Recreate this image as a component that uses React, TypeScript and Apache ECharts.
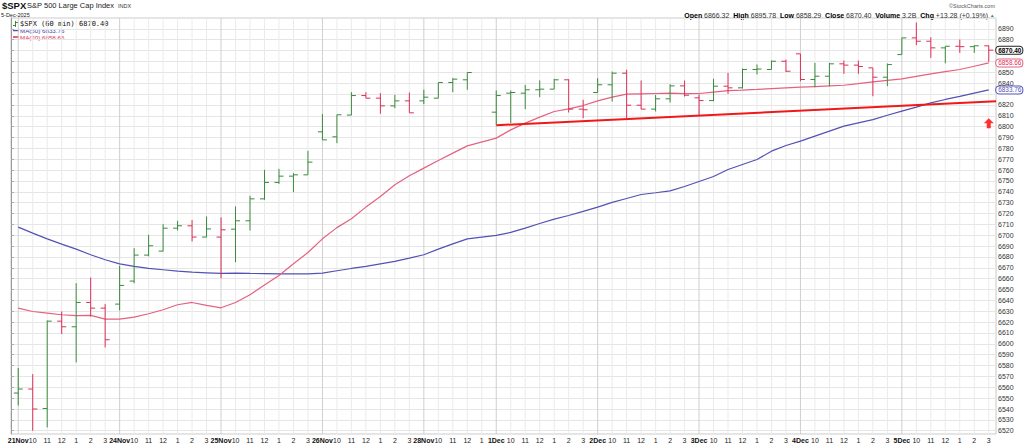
import React, { useEffect, useRef } from "react";
import * as echarts from "echarts";

// ---- tick labels (60-minute bars) ----
const categories: string[] = [
  "21Nov", "10", "11", "12", "1", "2", "3",
  "24Nov", "10", "11", "12", "1", "2", "3",
  "25Nov", "10", "11", "12", "1", "2", "3",
  "26Nov", "10", "11", "12", "1", "2", "3",
  "28Nov", "10", "11", "12", "1",
  "1Dec", "10", "11", "12", "1", "2", "3",
  "2Dec", "10", "11", "12", "1", "2", "3",
  "3Dec", "10", "11", "12", "1", "2", "3",
  "4Dec", "10", "11", "12", "1", "2", "3",
  "5Dec", "10", "11", "12", "1", "2", "3",
];

// ---- OHLC values ----
const opens: (number | null)[] = [
  6554.7, 6558.4, 6540.5, 6620.9, 6615.7, 6638.1, 6632.9,
  6636.6, 6657.8, 6681.7, 6685.4, 6706.5, 6708.7, 6698.3,
  6698.3, 6705.6, 6713.3, 6733.5, 6748.6, 6754.4, 6755.6,
  6795.2, 6790.6, 6810.6, 6828.6, 6826.2, 6819.1, 6823.7,
  6823.7, 6826.2, 6840.6, 6843.1, null,
  6813.3, 6830.8, 6830.8, 6833.9, 6834.5, 6843.1, 6816.1,
  6831.4, 6838.5, 6849.2, 6819.7, 6816.1, 6825.6, 6837.5,
  6826.5, 6824.0, 6837.2, 6835.7, 6852.6, 6852.6, 6860.2,
  6867.0, 6843.4, 6846.4, 6857.8, 6856.6, 6854.1, 6845.5,
  6866.32, 6881.7, 6878.6, 6872.5, 6874.0, 6873.6, 6874.4,
];
const highs: (number | null)[] = [
  6577.7, 6572.1, 6621.5, 6629.8, 6655.9, 6661.1, 6636.6,
  6671.9, 6688.1, 6700.4, 6710.2, 6713.3, 6713.9, 6717.3,
  6716.4, 6726.5, 6736.3, 6760.2, 6761.1, 6757.2, 6777.7,
  6811.5, 6811.0, 6831.7, 6831.7, 6830.8, 6829.3, 6831.4,
  6833.9, 6840.6, 6844.6, 6849.8, null,
  6833.3, 6833.3, 6838.5, 6842.5, 6844.0, 6843.6, 6824.7,
  6844.6, 6850.7, 6852.3, 6842.5, 6829.3, 6839.1, 6842.4,
  6829.5, 6844.0, 6849.5, 6853.5, 6857.2, 6860.8, 6861.7,
  6867.0, 6858.7, 6858.7, 6860.8, 6860.8, 6854.1, 6858.1,
  6881.7, 6895.78, 6882.3, 6874.0, 6880.2, 6874.8, 6874.6,
];
const lows: (number | null)[] = [
  6543.3, 6520.0, 6523.1, 6609.0, 6582.9, 6625.2, 6596.7,
  6630.8, 6655.9, 6680.5, 6685.1, 6704.4, 6694.3, 6698.3,
  6660.5, 6675.2, 6704.4, 6732.6, 6747.3, 6739.7, 6755.6,
  6787.8, 6784.8, 6810.6, 6826.2, 6811.8, 6817.0, 6812.7,
  6820.7, 6826.2, 6831.7, 6833.9, null,
  6801.3, 6803.2, 6816.1, 6827.1, 6834.5, 6813.0, 6807.8,
  6831.4, 6823.1, 6806.9, 6816.1, 6813.9, 6822.2, 6827.7,
  6810.5, 6823.4, 6830.1, 6835.1, 6848.0, 6852.6, 6850.4,
  6841.8, 6836.3, 6837.2, 6848.6, 6848.6, 6828.0, 6837.2,
  6866.32, 6875.0, 6863.3, 6858.29, 6867.9, 6867.9, 6859.6,
];
const closes: (number | null)[] = [
  6558.4, 6540.0, 6620.9, 6615.7, 6638.1, 6632.9, 6603.8,
  6653.8, 6681.7, 6690.3, 6706.5, 6708.7, 6698.3, 6705.8,
  6705.0, 6713.3, 6733.5, 6748.6, 6754.4, 6755.6, 6767.3,
  6787.8, 6810.9, 6828.6, 6826.2, 6819.1, 6823.7, 6812.7,
  6827.1, 6840.6, 6843.7, 6849.8, null,
  6828.6, 6831.4, 6833.9, 6834.5, 6843.1, 6816.1, 6815.5,
  6838.5, 6849.2, 6819.7, 6816.1, 6825.6, 6837.5, 6828.9,
  6824.0, 6837.2, 6835.7, 6852.6, 6853.0, 6860.2, 6851.0,
  6843.4, 6846.4, 6857.8, 6856.6, 6855.3, 6845.5, 6857.12,
  6881.7, 6878.6, 6872.5, 6874.0, 6873.6, 6874.4, 6870.40,
];
// 1 = green (up) bar, 0 = red (down) bar, as coloured in the picture
const upBars: (number | null)[] = [
  1, 0, 1, 0, 1, 0, 0,
  1, 1, 1, 1, 1, 0, 1,
  0, 1, 1, 1, 1, 1, 1,
  1, 1, 1, 0, 0, 1, 0,
  1, 1, 1, 1, null,
  1, 1, 1, 1, 1, 0, 0,
  1, 1, 0, 0, 1, 1, 0,
  0, 1, 0, 1, 1, 1, 0,
  0, 1, 1, 0, 0, 0, 1,
  1, 0, 0, 1, 0, 1, 0,
];

// ---- moving averages ----
const ma50: (number | null)[] = [
  6707.5, 6701.9, 6696.7, 6691.8, 6687.2, 6682.0, 6677.4,
  6673.7, 6671.3, 6669.4, 6668.2, 6667.0, 6666.0, 6665.4,
  6664.8, 6665.1, 6664.8, 6664.7, 6664.5, 6664.5, 6664.5,
  6665.1, 6667.3, 6669.4, 6671.3, 6673.7, 6675.9, 6678.9,
  6682.0, 6687.2, 6692.1, 6696.7, null,
  6699.8, 6702.6, 6706.5, 6710.8, 6714.8, 6718.2, 6721.9,
  6725.9, 6730.2, 6733.8, 6737.5, 6739.1, 6740.9, 6744.9,
  6749.5, 6754.1, 6760.5, 6765.1, 6769.7, 6777.4, 6782.6,
  6786.6, 6791.2, 6795.8, 6800.4, 6803.5, 6806.5, 6810.5,
  6814.2, 6817.9, 6821.9, 6825.0, 6827.8, 6830.8, 6833.76,
];
const ma20: (number | null)[] = [
  6632.9, 6629.8, 6628.3, 6626.8, 6625.9, 6626.2, 6622.8,
  6622.8, 6624.6, 6627.7, 6631.4, 6636.0, 6638.1, 6635.4,
  6633.2, 6638.1, 6645.2, 6654.1, 6663.0, 6673.7, 6684.1,
  6696.7, 6707.0, 6715.1, 6725.9, 6735.7, 6746.4, 6754.7,
  6761.8, 6768.8, 6775.6, 6782.3, null,
  6789.4, 6797.0, 6803.2, 6808.7, 6813.9, 6816.4, 6819.4,
  6823.7, 6827.1, 6829.9, 6830.2, 6830.5, 6830.8, 6830.3,
  6830.5, 6831.8, 6833.1, 6833.6, 6834.2, 6835.0, 6835.7,
  6836.3, 6836.9, 6837.5, 6838.1, 6839.6, 6841.2, 6842.6,
  6844.0, 6846.3, 6848.6, 6850.6, 6852.6, 6855.6, 6858.66,
];

// ---- trend line (bar index, value) and the red arrow annotation ----
const trendStart: [number, number] = [33, 6801.3];
const trendEnd: [number, number] = [67.5, 6823.3];
const arrowPoint: [number, number] = [67, 6803];

// ---- header texts ----
const headerStats: [string, string][] = [
  ["Open", "6866.32"],
  ["High", "6895.78"],
  ["Low", "6858.29"],
  ["Close", "6870.40"],
  ["Volume", "3.2B"],
  ["Chg", "+13.28 (+0.19%)"],
];

const FONT = '"Liberation Sans", Arial, sans-serif';
const GREEN = "#3a8a3c";
const RED = "#dc2f58";
const BLUE = "#5252b4";
const PINK = "#e4627f";

export default function App() {
  const ref = useRef<HTMLDivElement>(null);

  useEffect(() => {
    if (!ref.current) return;
    const chart = echarts.init(ref.current, undefined, { renderer: "svg" });

    const ohlcData = categories
      .map((_, i) =>
        opens[i] == null
          ? null
          : [i, opens[i], highs[i], lows[i], closes[i], upBars[i]]
      )
      .filter((d) => d !== null);

    const gridData = categories.map((c, i) => [i, /[A-Za-z]/.test(c) ? 1 : 0]);

    const n = categories.length;
    const lastClose = closes[n - 1] as number;
    const lastMa20 = ma20[n - 1] as number;
    const lastMa50 = ma50[n - 1] as number;
    const tagValues = [lastClose, lastMa20, lastMa50];

    const tagLabel = (color: string, textColor: string, bold: boolean) => ({
      show: true,
      position: "right",
      distance: 7,
      formatter: "{c}",
      fontSize: 6.4,
      fontFamily: FONT,
      fontWeight: bold ? "bold" : "normal",
      color: textColor,
      backgroundColor: "#fff",
      borderColor: color,
      borderWidth: 1,
      borderRadius: 3,
      padding: [1, 1, 0, 2],
    });

    const statsRich =
      headerStats.map(([k, v]) => `{b|${k}} ${v}`).join("  ");

    const option: any = {
      animation: false,
      backgroundColor: "#fff",
      grid: {
        left: 11,
        right: 28,
        top: 18,
        bottom: 12,
        show: true,
        borderColor: "#c8c8c8",
        borderWidth: 1,
      },
      xAxis: [
        {
          type: "category",
          data: categories,
          boundaryGap: true,
          axisLine: { show: false },
          axisTick: { show: false },
          splitLine: { show: false },
          axisLabel: {
            interval: 0,
            fontSize: 7,
            color: "#222",
            margin: 3,
            fontFamily: FONT,
            formatter: (v: string) => (/[A-Za-z]/.test(v) ? `{b|${v}}` : v),
            rich: {
              b: { fontWeight: "bold", fontSize: 7, color: "#111", fontFamily: FONT },
            },
          },
        },
        { type: "value", min: 0, max: n, show: false },
      ],
      yAxis: {
        type: "value",
        position: "right",
        min: 6517,
        max: 6900,
        splitNumber: 38,
        minInterval: 10,
        maxInterval: 10,
        axisLine: { show: true, lineStyle: { color: "#999" } },
        axisTick: { show: true, length: 3, lineStyle: { color: "#aaa" } },
        axisLabel: {
          fontSize: 7,
          color: "#333",
          margin: 2,
          fontFamily: FONT,
          showMinLabel: false,
          showMaxLabel: false,
          // labels that sit fully under a value tag are left out
          formatter: (v: number) =>
            tagValues.some((t) => Math.abs(t - v) < 5) ? "" : String(Math.round(v)),
        },
        splitLine: { show: true, lineStyle: { color: "#e6e6e6", width: 1 } },
      },
      series: [
        {
          type: "custom",
          silent: true,
          z: 1,
          data: gridData,
          encode: { x: 0 },
          renderItem: (params: any, api: any) => {
            const cs = params.coordSys;
            const x = api.coord([api.value(0), 6700])[0];
            const day = api.value(1) === 1;
            return {
              type: "line",
              shape: { x1: x, y1: cs.y, x2: x, y2: cs.y + cs.height },
              style: { stroke: day ? "#cfcfcf" : "#ebebeb", lineWidth: 1 },
            };
          },
        },
        {
          type: "line",
          name: "MA(50)",
          data: ma50,
          connectNulls: true,
          showSymbol: false,
          symbol: "none",
          lineStyle: { color: BLUE, width: 1.2 },
          z: 3,
          markPoint: {
            symbol: "circle",
            symbolSize: 1,
            itemStyle: { color: "transparent" },
            z: 10,
            data: [
              {
                coord: [n - 1, lastMa50],
                value: lastMa50.toFixed(2),
                label: tagLabel(BLUE, BLUE, false),
              },
            ],
          },
        },
        {
          type: "line",
          name: "MA(20)",
          data: ma20,
          connectNulls: true,
          showSymbol: false,
          symbol: "none",
          lineStyle: { color: PINK, width: 1.2 },
          z: 3,
          markPoint: {
            symbol: "circle",
            symbolSize: 1,
            itemStyle: { color: "transparent" },
            z: 10,
            data: [
              {
                coord: [n - 1, lastMa20],
                value: lastMa20.toFixed(2),
                label: tagLabel(PINK, RED, false),
              },
              {
                coord: [n - 1, lastClose],
                value: lastClose.toFixed(2),
                label: tagLabel("#222", "#000", true),
              },
            ],
          },
        },
        {
          type: "line",
          xAxisIndex: 1,
          data: [
            [trendStart[0] + 0.5, trendStart[1]],
            [trendEnd[0] + 0.5, trendEnd[1]],
          ],
          showSymbol: false,
          symbol: "none",
          lineStyle: { color: "#f01818", width: 2 },
          z: 4,
          silent: true,
        },
        {
          type: "custom",
          z: 5,
          data: ohlcData,
          encode: { x: 0, y: [1, 2, 3, 4] },
          renderItem: (params: any, api: any) => {
            const i = api.value(0);
            const pO = api.coord([i, api.value(1)]);
            const pH = api.coord([i, api.value(2)]);
            const pL = api.coord([i, api.value(3)]);
            const pC = api.coord([i, api.value(4)]);
            const c = api.value(5) === 1 ? GREEN : RED;
            const x = pH[0];
            const t = 4.5;
            const st = { stroke: c, lineWidth: 1 };
            return {
              type: "group",
              children: [
                { type: "line", shape: { x1: x, y1: pH[1], x2: x, y2: pL[1] }, style: st },
                { type: "line", shape: { x1: x - t, y1: pO[1], x2: x, y2: pO[1] }, style: st },
                { type: "line", shape: { x1: x, y1: pC[1], x2: x + t, y2: pC[1] }, style: st },
              ],
            };
          },
        },
        {
          type: "scatter",
          data: [arrowPoint],
          symbol: "path://M5 0 L10 5 L7 5 L7 10 L3 10 L3 5 L0 5 Z",
          symbolSize: [10, 10],
          itemStyle: { color: "#ff0000" },
          z: 6,
          silent: true,
        },
      ],
      graphic: [
        {
          type: "text",
          x: 2,
          y: 5,
          style: { text: "$SPX", fontSize: 9.5, fontWeight: "bold", fontFamily: FONT, fill: "#111", verticalAlign: "middle" },
        },
        {
          type: "text",
          x: 27,
          y: 5.5,
          style: { text: "S&P 500 Large Cap Index", fontSize: 7.5, fontFamily: FONT, fill: "#222", verticalAlign: "middle" },
        },
        {
          type: "text",
          x: 118,
          y: 5.5,
          style: { text: "INDX", fontSize: 5.5, fontFamily: FONT, fill: "#333", verticalAlign: "middle" },
        },
        {
          type: "text",
          x: 1,
          y: 15,
          style: { text: "5-Dec-2025", fontSize: 5.5, fontFamily: FONT, fill: "#222", verticalAlign: "middle" },
        },
        {
          type: "text",
          x: 995,
          y: 5.5,
          style: { text: "©StockCharts.com", fontSize: 5.5, fontFamily: FONT, fill: "#555", align: "right", verticalAlign: "middle" },
        },
        {
          type: "text",
          x: 988,
          y: 15,
          style: {
            text: statsRich,
            fontSize: 7,
            fontFamily: FONT,
            fill: "#333",
            align: "right",
            verticalAlign: "middle",
            rich: { b: { fontWeight: "bold", fontSize: 7, fontFamily: FONT, fill: "#000" } },
          },
        },
        {
          type: "text",
          x: 990,
          y: 15.5,
          style: { text: "▲", fontSize: 4.5, fontFamily: FONT, fill: GREEN, verticalAlign: "middle" },
        },
        // in-plot legend
        { type: "line", shape: { x1: 15.5, y1: 21, x2: 15.5, y2: 27 }, style: { stroke: GREEN, lineWidth: 1 } },
        { type: "line", shape: { x1: 13, y1: 25.5, x2: 15.5, y2: 25.5 }, style: { stroke: GREEN, lineWidth: 1 } },
        { type: "line", shape: { x1: 15.5, y1: 22.5, x2: 18, y2: 22.5 }, style: { stroke: GREEN, lineWidth: 1 } },
        {
          type: "text",
          x: 20,
          y: 24,
          style: { text: "$SPX (60 min) 6870.40", fontSize: 7, fontFamily: '"DejaVu Sans Mono", monospace', fill: "#111", verticalAlign: "middle" },
        },
        { type: "line", shape: { x1: 13, y1: 30.5, x2: 19, y2: 30.5 }, style: { stroke: BLUE, lineWidth: 1.5 } },
        {
          type: "text",
          x: 20,
          y: 30.5,
          style: { text: "MA(50) 6833.76", fontSize: 6.2, fontFamily: FONT, fill: "#3c3ca8", verticalAlign: "middle" },
        },
        { type: "line", shape: { x1: 13, y1: 37, x2: 19, y2: 37 }, style: { stroke: RED, lineWidth: 1.5 } },
        {
          type: "text",
          x: 20,
          y: 37,
          style: { text: "MA(20) 6858.66", fontSize: 6.2, fontFamily: FONT, fill: RED, verticalAlign: "middle" },
        },
      ],
    };

    chart.setOption(option);
    return () => chart.dispose();
  }, []);

  return (
    <div
      ref={ref}
      style={{ position: "absolute", left: 0, top: 0, width: 1024, height: 446, background: "#fff" }}
    />
  );
}
